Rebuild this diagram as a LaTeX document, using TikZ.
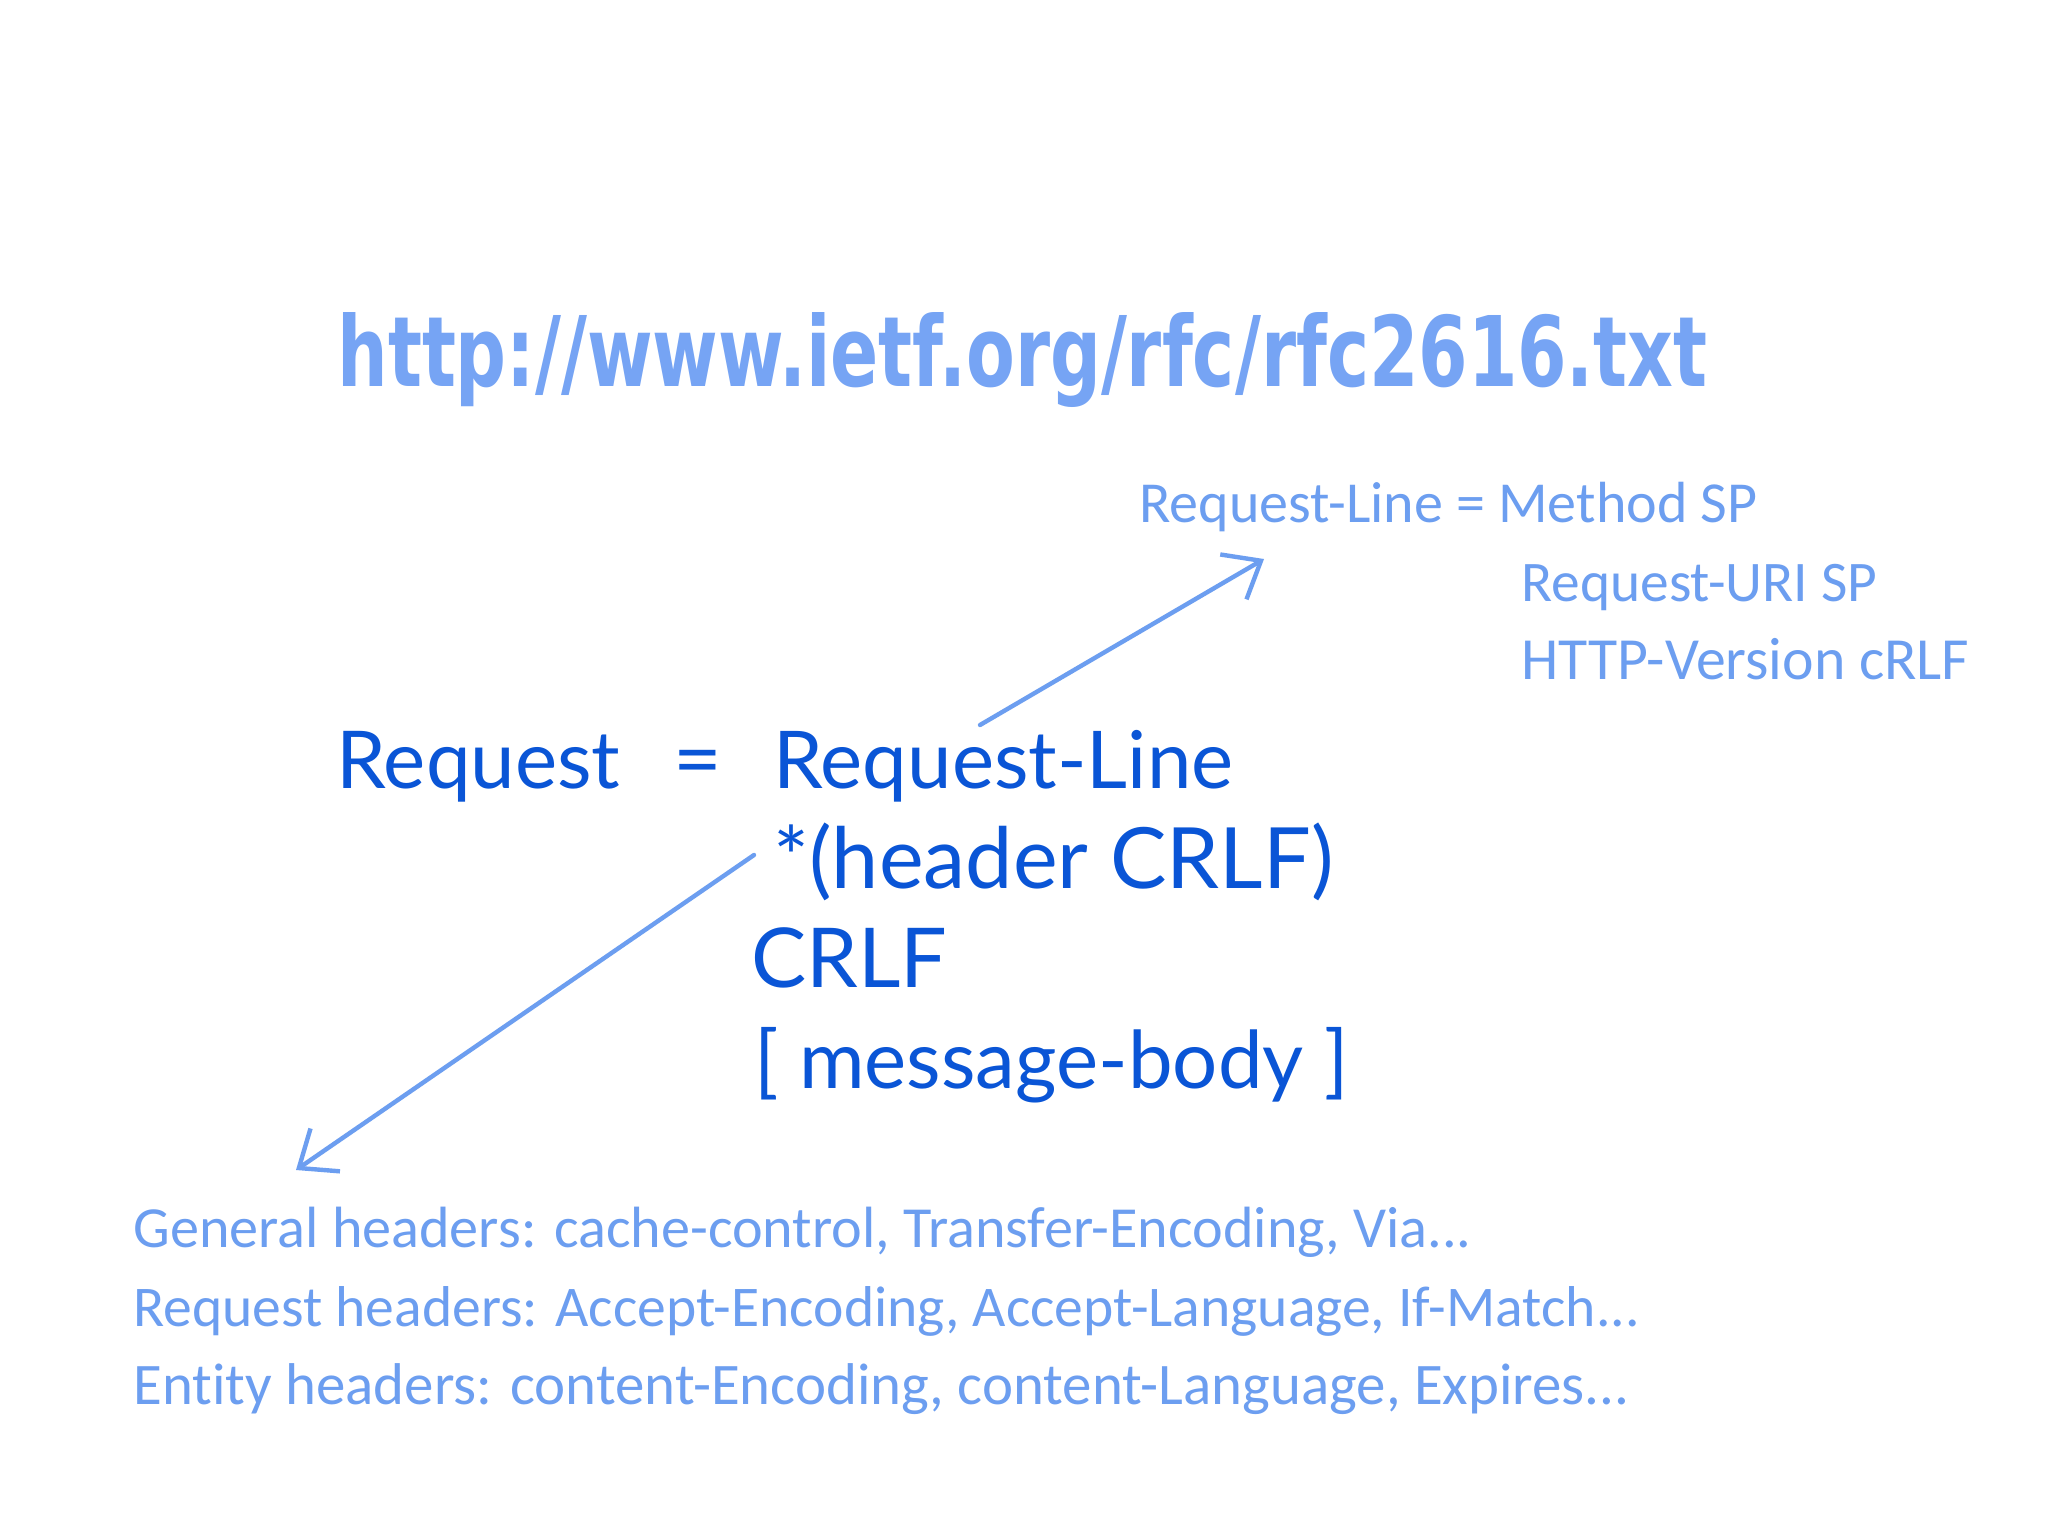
\documentclass[tikz,border=0pt]{standalone}
\usepackage{fontspec}
\usetikzlibrary{arrows.meta}
\setmainfont{Lato}
\newfontfamily\urlfnt{DejaVu Sans Condensed Bold}
\newfontfamily\handfnt[Ligatures=NoCommon]{Carlito}
\definecolor{urlblue}{HTML}{76A4F4}
\definecolor{mainblue}{HTML}{0A55D6}
\definecolor{handblue}{HTML}{6C9EF0}
\tikzset{
  url/.style={anchor=base west, inner sep=0pt, text=urlblue, font=\urlfnt},
  mainexp/.style={anchor=base west, inner sep=0pt, text=mainblue, font=\fontsize{42}{50}\selectfont},
  hand/.style={anchor=base west, inner sep=0pt, text=handblue, font=\handfnt},
  sketcharrow/.style={draw=handblue, line width=2.2pt, line cap=round,
    -{Straight Barb[length=16pt, width=26pt, line width=2.2pt]}},
}
\begin{document}
\begin{tikzpicture}[x=0.5pt, y=-0.5pt]
\fill[white] (0,0) rectangle (2048,1536);
\useasboundingbox (0,0) rectangle (2048,1536);

% URL
\node[url] (url) at (337,386) {\resizebox{685pt}{37pt}{http://www.ietf.org/rfc/rfc2616.txt}};

% Request-Line definition
\node[hand] (rl1) at (1139,522) {\resizebox{309pt}{!}{Request-Line = Method SP}};
\node[hand] (rl2) at (1521,601) {\resizebox{178pt}{!}{Request-URI SP}};
\node[hand] (rl3) at (1521,679) {\resizebox{224pt}{!}{HTTP-Version cRLF}};

% Main expression
\node[mainexp] (req) at (336,788) {\resizebox{142pt}{!}{Request}};
\node[mainexp] (eq) at (673,788) {=};
\node[mainexp] (reqline) at (773,788) {\resizebox{230pt}{!}{Request-Line}};
\node[mainexp] (hdr) at (773,888) {\resizebox{280pt}{!}{*(header CRLF)}};
\node[mainexp] (crlf) at (751,987) {\resizebox{98pt}{!}{CRLF}};
\node[mainexp] (body) at (754,1088) {\resizebox{297pt}{!}{[ message-body ]}};

% Header lists
\node[hand] (gen) at (133,1247) {\resizebox{669pt}{!}{General headers: cache-control, Transfer-Encoding, Via...}};
\node[hand] (rqh) at (133,1326) {\resizebox{753pt}{!}{Request headers: Accept-Encoding, Accept-Language, If-Match...}};
\node[hand] (ent) at (133,1404) {\resizebox{748pt}{!}{Entity headers: content-Encoding, content-Language, Expires...}};

% Arrows
\coordinate (a1s) at (980,725);
\coordinate (a1e) at (1264,559);
\coordinate (a2s) at (754,855);
\coordinate (a2e) at (296,1170);
\draw[sketcharrow] (a1s) -- (a1e);
\draw[sketcharrow] (a2s) -- (a2e);
\end{tikzpicture}
\end{document}
